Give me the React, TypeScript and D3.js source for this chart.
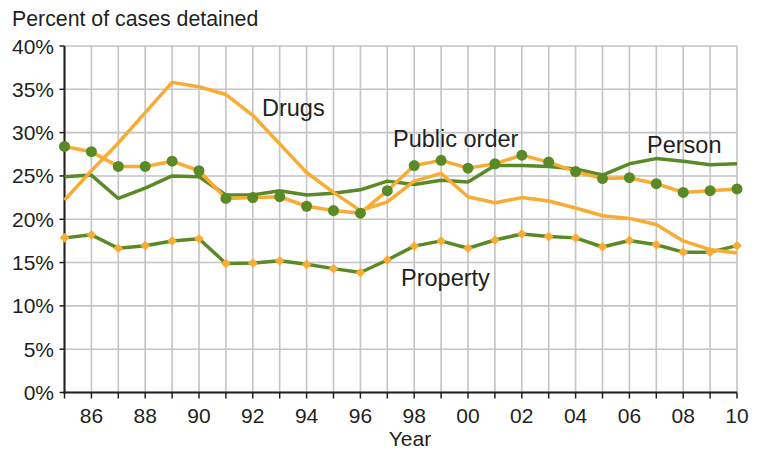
import React from "react";
import * as d3 from "d3";

const years = [1985,1986,1987,1988,1989,1990,1991,1992,1993,1994,1995,1996,1997,1998,1999,2000,2001,2002,2003,2004,2005,2006,2007,2008,2009,2010];
const person = [24.9,25.1,22.4,23.6,25.0,24.9,22.8,22.8,23.3,22.8,23.0,23.4,24.4,24.0,24.5,24.3,26.2,26.2,26.1,25.8,25.1,26.4,27.0,26.7,26.3,26.4];
const publicOrder = [28.4,27.8,26.1,26.1,26.7,25.6,22.4,22.5,22.6,21.5,21.0,20.7,23.3,26.2,26.8,25.9,26.4,27.4,26.6,25.5,24.7,24.8,24.1,23.1,23.3,23.5];
const drugs = [22.2,25.6,28.8,32.3,35.8,35.3,34.4,32.0,28.7,25.4,23.1,21.0,22.0,24.4,25.3,22.6,21.9,22.5,22.1,21.3,20.4,20.1,19.4,17.5,16.5,16.1];
const property = [17.85,18.2,16.65,16.95,17.5,17.75,14.9,14.95,15.2,14.8,14.3,13.85,15.3,16.9,17.5,16.65,17.6,18.3,18.0,17.85,16.8,17.55,17.05,16.2,16.2,16.95];
const yTicks = [0,5,10,15,20,25,30,35,40];
const xTickYears = [1986,1988,1990,1992,1994,1996,1998,2000,2002,2004,2006,2008,2010];

const GREEN = "#5a8a26";
const ORANGE = "#f9ac33";
const GRID = "#c3c3c8";
const FONT = "'Liberation Sans', Arial, Helvetica, sans-serif";

export default function App() {
  const W = 759, H = 449;
  const x = d3.scaleLinear().domain([1985, 2010]).range([64.5, 737]);
  const y = d3.scaleLinear().domain([0, 40]).range([392.5, 46]);
  const line = (vals: number[]) =>
    d3.line<number>().x((_, i) => x(years[i])).y((v) => y(v))(vals) || "";
  const diamond = d3.symbol().type(d3.symbolDiamond2 as any).size(60)();
  const textStyle = { fontFamily: FONT, fontSize: 21, fill: "#231f20" } as const;
  const labelSize = 23.5;

  return (
    <svg width={W} height={H} style={{ position: "absolute", left: 0, top: 0, background: "#fff" }}>
      {/* grid */}
      {years.map((yr) => (
        <line key={"gx" + yr} x1={x(yr)} x2={x(yr)} y1={y(40)} y2={y(0)} stroke={GRID} strokeWidth={1.6} />
      ))}
      {yTicks.map((t) => (
        <line key={"gy" + t} x1={x(1985)} x2={x(2010)} y1={y(t)} y2={y(t)} stroke={GRID} strokeWidth={1.6} />
      ))}
      {/* axes */}
      <line x1={x(1985)} x2={x(1985)} y1={y(40)} y2={y(0) + 1} stroke="#231f20" strokeWidth={2} />
      <line x1={x(1985) - 1} x2={x(2010)} y1={y(0)} y2={y(0)} stroke="#231f20" strokeWidth={2} />
      {yTicks.map((t) => (
        <line key={"ty" + t} x1={x(1985) - 5} x2={x(1985)} y1={y(t)} y2={y(t)} stroke="#231f20" strokeWidth={1.5} />
      ))}
      {years.map((yr) => (
        <line key={"tx" + yr} x1={x(yr)} x2={x(yr)} y1={y(0)} y2={y(0) + 6} stroke="#231f20" strokeWidth={1.5} />
      ))}
      {yTicks.map((t) => (
        <text key={"ly" + t} x={54} y={y(t)} dy="0.36em" textAnchor="end" {...textStyle}>{t}%</text>
      ))}
      {xTickYears.map((yr) => (
        <text key={"lx" + yr} x={x(yr)} y={423} textAnchor="middle" {...textStyle}>
          {String(yr % 100).padStart(2, "0")}
        </text>
      ))}
      <text x={410} y={446} textAnchor="middle" {...textStyle}>Year</text>
      <text x={12} y={26} {...textStyle} fontSize={21.3}>Percent of cases detained</text>

      {/* lines */}
      <path d={line(person)} fill="none" stroke={GREEN} strokeWidth={3.5} strokeLinejoin="round" />
      <path d={line(publicOrder)} fill="none" stroke={ORANGE} strokeWidth={3.5} strokeLinejoin="round" />
      <path d={line(property)} fill="none" stroke={GREEN} strokeWidth={3.5} strokeLinejoin="round" />
      <path d={line(drugs)} fill="none" stroke={ORANGE} strokeWidth={3.5} strokeLinejoin="round" />

      {/* markers */}
      {publicOrder.map((v, i) => (
        <circle key={"c" + i} cx={x(years[i])} cy={y(v)} r={5.5} fill={GREEN} />
      ))}
      {property.map((v, i) => (
        <path key={"d" + i} d={diamond} transform={`translate(${x(years[i])},${y(v)})`} fill={ORANGE} />
      ))}

      {/* labels */}
      <text x={262} y={116} {...textStyle} fontSize={labelSize}>Drugs</text>
      <text x={393} y={147} {...textStyle} fontSize={labelSize}>Public order</text>
      <text x={647} y={153} {...textStyle} fontSize={labelSize}>Person</text>
      <text x={401} y={286} {...textStyle} fontSize={labelSize}>Property</text>
    </svg>
  );
}
